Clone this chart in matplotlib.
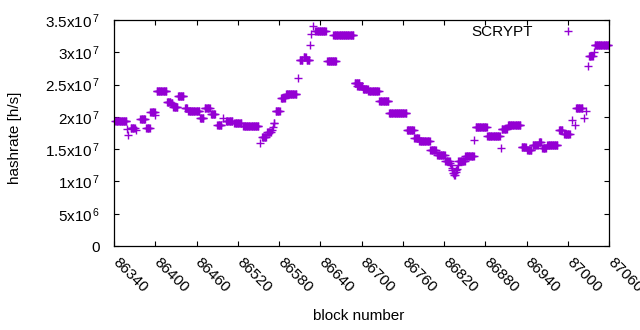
import matplotlib
matplotlib.use("Agg")
import matplotlib.pyplot as plt
import matplotlib.transforms as mtransforms
import numpy as np

plt.rcParams["font.family"] = ["Liberation Sans", "DejaVu Sans"]
plt.rcParams["mathtext.fontset"] = "custom"
plt.rcParams["mathtext.rm"] = "Liberation Sans"
plt.rcParams["mathtext.default"] = "regular"

# runs of blocks that share one hashrate estimate (first block, last block, h/s)
seg_first = [
    86342, 86359, 86361, 86364, 86372, 86378, 86387, 86393, 86400, 86402,
    86417, 86423, 86426, 86433, 86443, 86448, 86465, 86472, 86481, 86490,
    86499, 86503, 86515, 86528, 86552, 86555, 86563, 86570, 86571, 86572,
    86575, 86583, 86590, 86608, 86610, 86616, 86620, 86625, 86627, 86630,
    86633, 86650, 86659, 86690, 86694, 86702, 86710, 86726, 86740, 86766,
    86777, 86784, 86800, 86810, 86822, 86829, 86830, 86831, 86832, 86833,
    86835, 86837, 86838, 86839, 86840, 86841, 86851, 86864, 86866, 86883,
    86903, 86904, 86913, 86933, 86941, 86949, 86958, 86963, 86970, 86987,
    86995, 87006, 87011, 87012, 87024, 87027, 87029, 87031, 87038, 87039,
]
seg_last = [
    86358, 86359, 86361, 86370, 86372, 86385, 86392, 86399, 86400, 86416,
    86422, 86425, 86432, 86441, 86446, 86464, 86470, 86479, 86487, 86496,
    86499, 86512, 86525, 86550, 86552, 86561, 86568, 86570, 86571, 86573,
    86581, 86588, 86605, 86608, 86614, 86619, 86624, 86625, 86627, 86630,
    86648, 86663, 86688, 86697, 86701, 86709, 86725, 86739, 86765, 86776,
    86783, 86799, 86808, 86821, 86828, 86829, 86830, 86831, 86832, 86834,
    86836, 86837, 86838, 86839, 86840, 86850, 86863, 86864, 86882, 86901,
    86903, 86911, 86931, 86939, 86947, 86956, 86961, 86968, 86985, 86992,
    87003, 87006, 87011, 87021, 87024, 87027, 87029, 87036, 87038, 87059,
]
seg_hashrate = [
    1.93e7, 1.81e7, 1.72e7, 1.83e7, 1.80e7, 1.96e7, 1.83e7, 2.07e7, 2.03e7, 2.405e7,
    2.235e7, 2.21e7, 2.15e7, 2.33e7, 2.13e7, 2.085e7, 1.98e7, 2.13e7, 2.04e7, 1.875e7,
    1.98e7, 1.94e7, 1.90e7, 1.855e7, 1.59e7, 1.69e7, 1.765e7, 1.79e7, 1.85e7, 1.90e7,
    2.085e7, 2.29e7, 2.35e7, 2.60e7, 2.88e7, 2.93e7, 2.88e7, 3.12e7, 3.29e7, 3.40e7,
    3.335e7, 2.86e7, 3.26e7, 2.52e7, 2.48e7, 2.43e7, 2.395e7, 2.24e7, 2.055e7, 1.79e7,
    1.67e7, 1.62e7, 1.48e7, 1.41e7, 1.32e7, 1.29e7, 1.25e7, 1.21e7, 1.17e7, 1.13e7,
    1.10e7, 1.14e7, 1.17e7, 1.20e7, 1.25e7, 1.32e7, 1.40e7, 1.64e7, 1.85e7, 1.71e7,
    1.52e7, 1.815e7, 1.87e7, 1.54e7, 1.49e7, 1.56e7, 1.615e7, 1.52e7, 1.565e7, 1.79e7,
    1.73e7, 1.95e7, 1.87e7, 2.13e7, 1.98e7, 2.095e7, 2.78e7, 2.94e7, 3.00e7, 3.12e7,
]

x_ticks = list(range(86340, 87061, 60))
y_ticks = [0, 5e6, 1e7, 1.5e7, 2e7, 2.5e7, 3e7, 3.5e7]
y_tick_labels = ["0", r"5x10$^{\,6}$", r"1x10$^{\,7}$", r"1.5x10$^{\,7}$",
                 r"2x10$^{\,7}$", r"2.5x10$^{\,7}$", r"3x10$^{\,7}$", r"3.5x10$^{\,7}$"]

blocks = np.concatenate([np.arange(a, b + 1) for a, b in zip(seg_first, seg_last)])
rates = np.concatenate([np.full(b - a + 1, v) for a, b, v in zip(seg_first, seg_last, seg_hashrate)])

fig = plt.figure(figsize=(6.4, 3.3), dpi=100)
ax = fig.add_axes([114 / 640, 1 - 246 / 330, 495 / 640, 226 / 330])

ax.plot(blocks, rates, linestyle="none", marker="+", markersize=5.5,
        markeredgewidth=1.0, color="#9400D3", label="SCRYPT", clip_on=False)

ax.set_xlim(86340, 87060)
ax.set_ylim(0, 3.5e7)
ax.set_xticks(x_ticks)
ax.set_xticklabels([str(t) for t in x_ticks], rotation=-45, ha="left", va="top",
                   rotation_mode="anchor")
ax.set_yticks(y_ticks)
ax.set_yticklabels(y_tick_labels)
ax.tick_params(direction="in", top=True, right=True, length=3.6, width=0.8,
               labelsize=11, colors="black")
ax.tick_params(axis="y", pad=10)
ax.tick_params(axis="x", pad=7)
for s in ax.spines.values():
    s.set_linewidth(0.9)

# nudge the slanted block labels so they start right at the tick, like gnuplot
shift = mtransforms.ScaledTranslation(6 / 100, 1 / 100, fig.dpi_scale_trans)
for lbl in ax.get_xticklabels():
    lbl.set_transform(lbl.get_transform() + shift)

ax.set_ylabel("hashrate [h/s]", fontsize=11)
ax.yaxis.set_label_coords(-0.186, 0.48)
fig.text(358.5 / 640, 1 - 316 / 330, "block number", fontsize=11, ha="center", va="center")

ax.legend(loc="center right", bbox_to_anchor=(0.949, 0.945), frameon=False,
          markerfirst=False, handlelength=2, handletextpad=1.3, borderpad=0,
          borderaxespad=0, fontsize=11)

fig.savefig("out.png", dpi=100)
